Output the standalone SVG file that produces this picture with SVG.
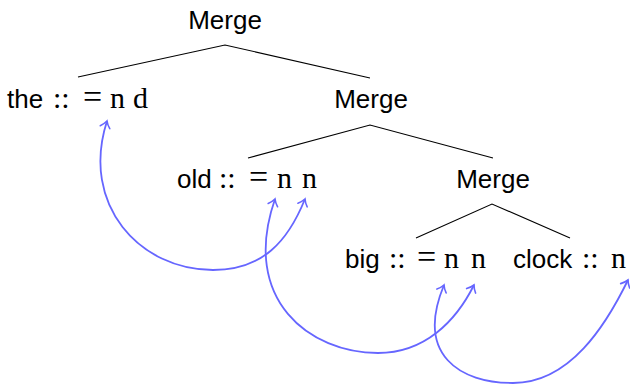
<svg xmlns="http://www.w3.org/2000/svg" width="630" height="385" viewBox="0 0 630 385">
<style>
  .sans { font-family: "Liberation Sans", Arial, sans-serif; font-size: 26px; fill: #000; }
  .ser { font-family: "Liberation Serif", "Times New Roman", serif; font-size: 30px; fill: #000; }
  .eq { font-size: 34px; }
  .mid { text-anchor: middle; }
  .edge { stroke: #000; stroke-width: 1.1; fill: none; }
  .arc { stroke: #6666ff; stroke-width: 1.8; fill: none; marker-start: url(#tip); marker-end: url(#tip); }
</style>
<defs>
  <marker id="tip" markerUnits="userSpaceOnUse" markerWidth="16" markerHeight="16" refX="0" refY="0" viewBox="-9 -8 11 16" orient="auto-start-reverse" overflow="visible">
    <path d="M -6.5 -5 C -4 -2.2 -1 -0.5 0 0 C -1 0.5 -4 2.2 -6.5 5" fill="none" stroke="#6666ff" stroke-width="1.6" stroke-linecap="round"/>
  </marker>
</defs>

<g id="merge1"><text class="sans mid" x="225" y="29">Merge</text></g>
<g id="the"><text y="108"><tspan class="sans" x="7">the</tspan><tspan class="ser" x="53">::</tspan><tspan class="ser eq" x="83">=</tspan><tspan class="ser" x="110">n</tspan><tspan class="ser" x="133">d</tspan></text></g>
<g id="merge2"><text class="sans mid" x="371" y="108">Merge</text></g>
<g id="old"><text y="188"><tspan class="sans" x="177">old</tspan><tspan class="ser" x="219">::</tspan><tspan class="ser eq" x="249">=</tspan><tspan class="ser" x="277">n</tspan><tspan class="ser" x="302">n</tspan></text></g>
<g id="merge3"><text class="sans mid" x="493" y="188">Merge</text></g>
<g id="big"><text y="268"><tspan class="sans" x="345">big</tspan><tspan class="ser" x="389">::</tspan><tspan class="ser eq" x="417">=</tspan><tspan class="ser" x="444">n</tspan><tspan class="ser" x="471">n</tspan></text></g>
<g id="clock"><text y="268"><tspan class="sans" x="513">clock</tspan><tspan class="ser" x="582">::</tspan><tspan class="ser" x="611">n</tspan></text></g>

<g id="connectors">
  <path class="edge" d="M 78 77 L 225 45 L 370 78"/>
  <path class="edge" d="M 248 158 L 370 125 L 493 158"/>
  <path class="edge" d="M 416 238 L 492 204 L 570 238"/>
  <path class="arc" d="M 107 121 C 80 205 140 270 213 270 C 263 270 288 241 305 199"/>
  <path class="arc" d="M 275 199 C 240 300 310 353 378 353 C 425 353 456 321 474 285"/>
  <path class="arc" d="M 444 285 C 415 355 460 383 513 383 C 570 383 606 325 628 280"/>
</g>
</svg>
